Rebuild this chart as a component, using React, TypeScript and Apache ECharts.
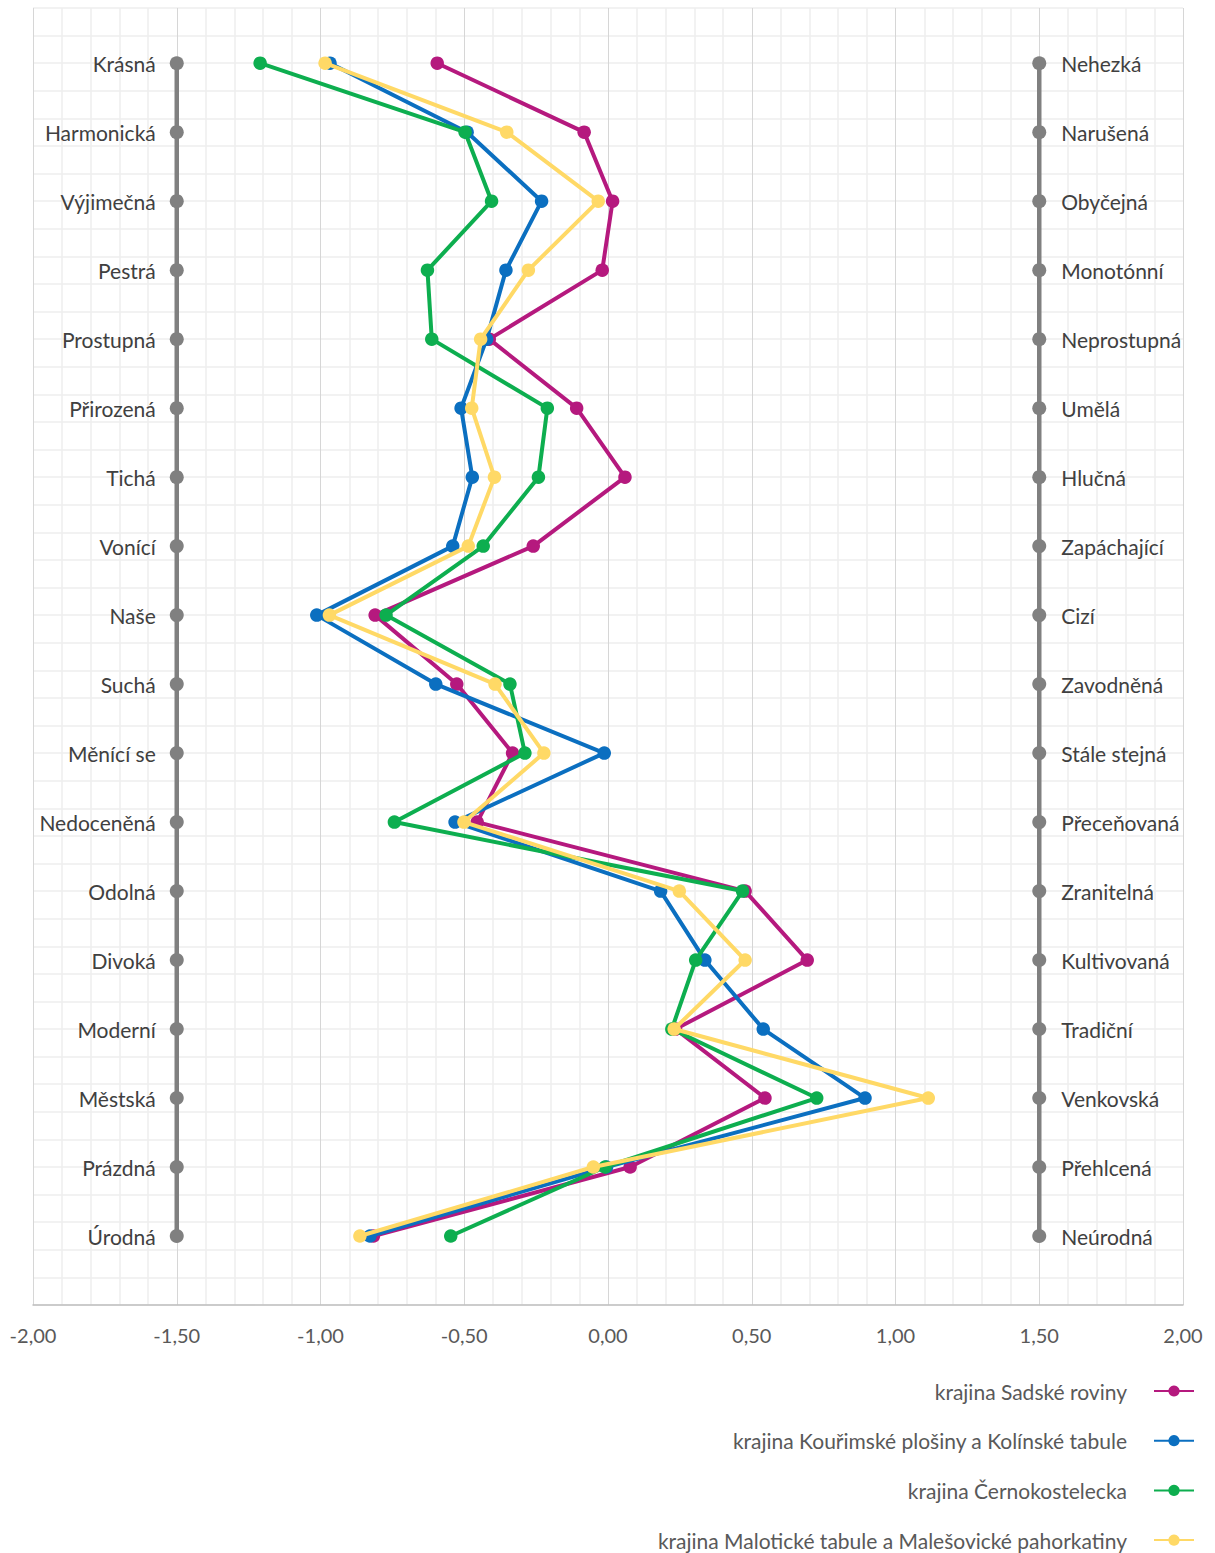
import React, { useEffect, useRef } from "react";
import * as echarts from "echarts";

const leftLabels = [
  "Krásná", "Harmonická", "Výjimečná", "Pestrá", "Prostupná", "Přirozená",
  "Tichá", "Vonící", "Naše", "Suchá", "Měnící se", "Nedoceněná", "Odolná",
  "Divoká", "Moderní", "Městská", "Prázdná", "Úrodná",
];
const rightLabels = [
  "Nehezká", "Narušená", "Obyčejná", "Monotónní", "Neprostupná", "Umělá",
  "Hlučná", "Zapáchající", "Cizí", "Zavodněná", "Stále stejná", "Přeceňovaná",
  "Zranitelná", "Kultivovaná", "Tradiční", "Venkovská", "Přehlcená", "Neúrodná",
];
// vertical position of each row (row 1 at top)
const rowY = [45, 42.5, 40, 37.5, 35, 32.5, 30, 27.5, 25, 22.5, 20, 17.5, 15, 12.5, 10, 7.5, 5, 2.5];

const seriesNames = [
  "krajina Sadské roviny",
  "krajina Kouřimské plošiny a Kolínské tabule",
  "krajina Černokostelecka",
  "krajina Malotické tabule a Malešovické pahorkatiny",
];
const seriesColors = ["#B5197E", "#0B6FC0", "#0DAE4F", "#FFD966"];

const sadske = [-0.594, -0.083, 0.016, -0.02, -0.413, -0.109, 0.059, -0.26, -0.81, -0.526, -0.332, -0.455, 0.477, 0.693, 0.235, 0.546, 0.077, -0.816];
const kourimske = [-0.967, -0.49, -0.231, -0.355, -0.422, -0.511, -0.472, -0.54, -1.013, -0.599, -0.013, -0.532, 0.183, 0.337, 0.54, 0.894, -0.005, -0.828];
const cernokostelecka = [-1.21, -0.497, -0.405, -0.628, -0.613, -0.211, -0.242, -0.434, -0.772, -0.341, -0.289, -0.743, 0.468, 0.305, 0.222, 0.726, -0.01, -0.547];
const maloticke = [-0.984, -0.352, -0.034, -0.277, -0.443, -0.474, -0.395, -0.486, -0.969, -0.393, -0.223, -0.501, 0.248, 0.477, 0.23, 1.114, -0.051, -0.863];

const seriesValues = [sadske, kourimske, cernokostelecka, maloticke];
const anchorLeftX = -1.5;
const anchorRightX = 1.5;

const FONT = "Lato, 'Open Sans', sans-serif";

export default function App() {
  const ref = useRef<HTMLDivElement>(null);
  useEffect(() => {
    if (!ref.current) return;
    const chart = echarts.init(ref.current, null, { renderer: "svg" });
    const anchorSeries = (x: number, labels: string[], side: "left" | "right") => ({
      type: "line",
      name: side + "-anchor",
      data: rowY.map((y) => [x, y]),
      symbol: "circle",
      symbolSize: 14,
      lineStyle: { color: "#808080", width: 4.5 },
      itemStyle: { color: "#808080" },
      z: 1,
      silent: true,
      label: {
        show: true,
        position: side,
        distance: side === "left" ? 14 : 15,
        formatter: (p: any) => labels[p.dataIndex],
        color: "#404040",
        fontSize: 21,
        fontFamily: FONT,
      },
    });
    const dataSeries = seriesValues.map((vals, i) => ({
      type: "line",
      name: seriesNames[i],
      data: vals.map((v, j) => [v, rowY[j]]),
      symbol: "circle",
      symbolSize: 13.5,
      lineStyle: { color: seriesColors[i], width: 4 },
      itemStyle: { color: seriesColors[i] },
      z: 2 + i,
    }));
    const legends = seriesNames.map((name, i) => ({
      data: [name],
      orient: "vertical",
      right: 20,
      top: 1380 + i * 49.7,
      padding: 0,
      align: "right",
      itemWidth: 40,
      itemHeight: 14,
      textStyle: {
        color: "#595959",
        fontSize: 21,
        fontFamily: FONT,
        lineHeight: 22,
        padding: [0, 22, 0, 0],
      },
    }));
    chart.setOption({
      animation: false,
      backgroundColor: "#ffffff",
      textStyle: { fontFamily: FONT },
      grid: { left: 33, right: 32, top: 8, bottom: 248, containLabel: false },
      xAxis: {
        type: "value",
        min: -2,
        max: 2,
        interval: 0.5,
        axisLine: { show: true, lineStyle: { color: "#bfbfbf", width: 1.5 } },
        axisTick: { show: false },
        axisLabel: {
          color: "#595959",
          fontSize: 20,
          fontFamily: FONT,
          margin: 20,
          formatter: (v: number) => v.toFixed(2).replace(".", ","),
        },
        splitLine: { show: true, lineStyle: { color: "#d6d6d6", width: 1 } },
        minorTick: { show: false, splitNumber: 5 },
        minorSplitLine: { show: true, lineStyle: { color: "#eeeeee", width: 1.5 } },
      },
      yAxis: {
        type: "value",
        min: 0,
        max: 47,
        interval: 1,
        axisLine: { show: false },
        axisTick: { show: false },
        axisLabel: { show: false },
        splitLine: { show: true, lineStyle: { color: "#eeeeee", width: 1.5 } },
      },
      legend: legends,
      series: [
        anchorSeries(anchorLeftX, leftLabels, "left"),
        anchorSeries(anchorRightX, rightLabels, "right"),
        ...dataSeries,
      ],
    });
    return () => chart.dispose();
  }, []);
  return (
    <div
      ref={ref}
      style={{ position: "absolute", left: 0, top: 0, width: 1215, height: 1553 }}
    />
  );
}
